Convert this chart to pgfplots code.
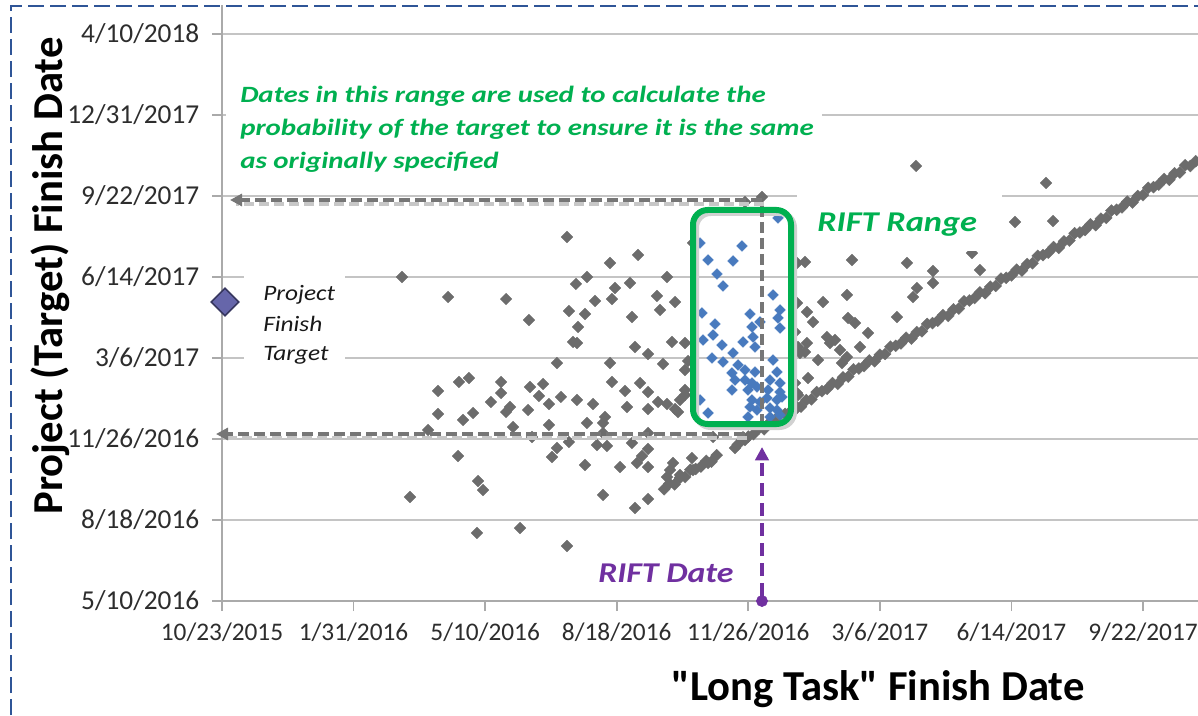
\documentclass[border=0pt]{standalone}
\usepackage{pgfplots}
\pgfplotsset{compat=1.18}
\usepackage{fontspec}
\setmainfont{Carlito}[Ligatures=TeXOff]
\usetikzlibrary{arrows.meta}
\definecolor{ptgray}{RGB}{108,108,108}
\definecolor{ptblue}{RGB}{72,122,190}
\definecolor{rgreen}{RGB}{0,176,80}
\definecolor{rpurple}{RGB}{112,48,160}
\definecolor{tgt}{RGB}{102,102,170}
\definecolor{tgtedge}{RGB}{55,55,95}
\definecolor{gridc}{RGB}{196,196,196}
\definecolor{axisc}{RGB}{170,170,170}
\definecolor{arrowc}{RGB}{118,118,118}
\definecolor{borderc}{RGB}{47,85,151}
\definecolor{tickc}{RGB}{45,45,45}

\pgfplotstableread{
x y
136.8 600.0
171.8 575.3
215.9 572.8
233.3 546.9
164.2 459.3
180.1 470.4
187.7 475.3
212.1 470.4
212.1 456.8
204.4 445.7
164.2 430.9
183.2 423.5
190.8 432.1
215.9 433.3
218.9 439.5
232.6 435.8
234.1 464.2
244.0 467.9
240.9 453.1
248.5 443.2
156.6 411.1
221.2 414.8
235.6 402.5
248.5 417.3
254.6 388.9
250.8 377.8
179.4 379.0
194.6 348.1
198.4 337.0
142.9 328.4
193.8 284.0
226.5 290.1
254.6 493.8
262.2 267.9
263.7 558.0
269.0 591.4
270.6 538.3
266.8 519.8
269.8 518.5
257.6 451.9
269.8 448.2
263.7 396.3
262.2 649.4
294.9 617.3
316.2 627.2
277.4 600.0
310.1 592.6
298.7 586.4
296.4 572.8
283.5 570.4
338.2 600.0
330.6 576.6
344.3 569.1
275.9 554.3
332.9 559.3
311.6 550.6
313.9 513.6
342.0 519.8
351.9 518.5
323.8 504.9
294.9 493.8
335.2 492.6
354.2 496.3
351.9 485.2
296.4 470.4
317.7 469.1
306.3 459.3
323.8 458.0
282.0 443.2
307.8 439.5
323.8 437.0
331.4 445.7
338.2 443.2
344.3 437.0
348.1 448.2
351.9 454.3
291.1 427.2
277.4 419.8
289.6 419.8
323.8 407.4
292.6 391.4
285.0 392.6
311.6 395.1
323.8 387.7
319.2 379.0
315.4 370.4
323.8 365.4
302.5 365.4
275.9 367.9
289.6 330.9
313.9 314.8
323.8 325.9
289.6 407.4
373.2 402.5
389.9 388.9
397.5 398.8
357.2 376.5
342.8 370.4
369.4 370.4
340.5 361.7
338.2 353.1
348.1 355.6
358.0 361.7
346.6 433.3
358.0 642.0
410.4 698.8
397.5 692.6
437.0 617.3
437.0 567.9
435.5 532.1
437.8 513.6
439.3 506.2
435.5 469.1
437.0 456.8
435.5 435.8
351.9 460.5
527.5 737.1
443.1 618.5
478.8 621.0
520.6 617.3
570.0 629.6
576.1 608.6
540.4 607.4
540.4 592.6
528.2 586.4
525.2 575.3
475.0 577.8
456.8 569.1
444.6 556.8
513.0 550.6
475.8 549.4
481.1 543.2
449.2 544.4
491.0 530.9
459.8 525.9
465.9 522.2
462.1 518.5
444.6 518.5
484.9 513.6
469.7 509.9
443.1 507.4
475.0 501.2
453.0 497.5
471.2 493.8
445.4 475.3
437.8 454.3
626.3 716.1
602.7 667.9
631.6 669.1
}\graypts

\pgfplotstableread{
x y
336 338
340 345
344 344
348 352
352 353
356 362
360 363
364 366
368 373
372 372
376 380
392 393
396 402
400 403
404 406
408 413
412 412
416 420
420 421
424 430
428 431
432 434
436 441
440 440
444 448
448 449
452 458
456 459
460 462
464 469
468 468
472 476
476 477
480 486
484 487
488 490
492 497
496 496
500 504
504 505
508 514
512 515
516 518
520 525
524 524
528 532
532 533
536 542
540 543
544 546
548 553
552 552
556 560
560 561
564 570
568 571
572 574
576 581
580 580
584 588
588 589
592 598
596 599
600 602
604 609
608 608
612 616
616 617
620 626
624 627
628 630
632 637
636 636
640 644
644 645
648 654
652 655
656 658
660 665
664 664
668 672
672 673
676 682
680 683
684 686
688 693
692 692
696 700
700 701
704 710
708 711
712 714
716 721
720 720
724 728
728 729
732 738
736 737
740 743
}\diagpts

\pgfplotstableread{
x y
363.3 642.0
369.4 621.0
395.2 638.3
388.4 619.8
376.2 603.7
380.8 588.9
422.6 672.9
418.8 577.8
424.1 559.3
364.8 555.6
401.3 554.3
374.7 542.0
402.8 538.3
408.9 544.5
422.6 549.4
424.1 537.0
365.6 522.2
373.2 528.4
380.0 516.0
396.0 519.8
403.6 525.9
405.1 513.6
372.4 500.0
380.8 495.1
388.4 506.2
392.2 491.4
397.5 485.2
405.1 482.7
418.8 497.5
421.8 482.7
387.6 481.5
389.9 472.8
397.5 472.8
402.8 469.1
406.6 464.2
399.8 460.5
416.5 472.8
424.1 469.1
387.6 460.5
415.0 460.5
424.1 458.0
402.8 448.2
408.9 445.7
414.2 450.6
421.8 448.2
425.6 451.9
401.3 439.5
406.6 435.8
416.5 438.3
421.8 435.8
369.4 432.1
399.8 427.2
416.5 427.2
424.1 429.6
363.3 448.2
}\bluepts

\begin{document}
\begin{tikzpicture}
\useasboundingbox (0,0) rectangle (898.5pt,536.25pt);
\begin{axis}[
  at={(166.5pt,85.5pt)}, anchor=south west,
  scale only axis, width=732pt, height=447pt,
  xmin=0, xmax=741.8, ymin=200, ymax=935.8,
  axis lines=left,
  axis line style={-, draw=axisc, line width=1.6pt},
  xtick={0,100,...,700},
  xticklabels={10/23/2015,1/31/2016,5/10/2016,8/18/2016,11/26/2016,3/6/2017,6/14/2017,9/22/2017},
  ytick={200,300,...,900},
  yticklabels={5/10/2016,8/18/2016,11/26/2016,3/6/2017,6/14/2017,9/22/2017,12/31/2017,4/10/2018},
  tick align=outside, major tick length=7.5pt,
  tick style={draw=axisc, line width=1.2pt},
  ymajorgrids, grid style={draw=gridc, line width=1.3pt},
  yticklabel style={font=\fontsize{20.5}{24}\selectfont, text=tickc, xshift=-6pt},
  xticklabel style={font=\fontsize{19}{23}\selectfont, text=tickc, yshift=-5.5pt},
  clip=false,
]
\addplot[only marks, mark=square*, mark size=3.1pt, mark options={rotate=45, fill=ptgray, draw=ptgray, line width=0.2pt}] table[x=x,y=y] {\graypts};
\addplot[only marks, mark=square*, mark size=3.2pt, mark options={rotate=45, fill=ptgray, draw=ptgray, line width=0.2pt}] table[x=x,y=y] {\diagpts};
\addplot[only marks, mark=square*, mark size=2.9pt, mark options={rotate=45, fill=ptblue, draw=ptblue, line width=0.2pt}] table[x=x,y=y] {\bluepts};
\addplot[only marks, mark=square*, mark size=7.3pt, mark options={rotate=45, fill=tgt, draw=tgtedge, line width=1.2pt}] coordinates {(2.3,569.1)};
\addplot[only marks, mark=*, mark size=4.2pt, mark options={fill=rpurple, draw=rpurple}] coordinates {(410.4,200)};
\end{axis}
\begin{scope}[x=0.75pt, y=-0.75pt, yshift=536.25pt]
  % page border
  \draw[borderc, line width=1.5pt, dash pattern=on 12pt off 4.5pt] (11,715) -- (11,6) -- (1198,6);
  % white text boxes
  \fill[white] (226,70) rectangle (822,184);
  \fill[white] (244,268) rectangle (345,372);
  \fill[white] (797,176) rectangle (1002,251);
  % shadows
  \draw[black!22, line width=3pt, dash pattern=on 7.5pt off 3.75pt] (764,204) -- (236,204);
  \draw[black!22, line width=3pt, dash pattern=on 7.5pt off 3.75pt] (747,438) -- (222,438);
  \draw[black!18, line width=4.5pt, rounded corners=11pt] (696,213) rectangle (794,427);
  % dashed arrows
  \draw[arrowc, line width=2.6pt, dash pattern=on 8pt off 4pt, -{Triangle[length=9pt,width=9pt]}] (762,200) -- (230,200);
  \draw[arrowc, line width=2.6pt, dash pattern=on 8pt off 4pt, -{Triangle[length=9pt,width=9pt]}] (745,434) -- (216,434);
  \draw[arrowc, line width=2.6pt, dash pattern=on 8pt off 4pt] (762,206) -- (762,428);
  % green box
  \draw[rgreen, line width=4.5pt, rounded corners=11pt] (693,210) rectangle (791,424);
  % purple arrow
  \draw[rpurple, line width=3pt, dash pattern=on 10pt off 5pt, -{Triangle[length=10pt,width=10pt]}] (762,596) -- (762,447);
  % texts
  \node[anchor=base west, inner sep=0, text=rgreen, font=\fontsize{17.5}{20}\selectfont\bfseries\itshape] at (240,103) {\scalebox{1.24}[1]{Dates in this range are used to calculate the}};
  \node[anchor=base west, inner sep=0, text=rgreen, font=\fontsize{17.5}{20}\selectfont\bfseries\itshape] at (240,136) {\scalebox{1.24}[1]{probability of the target to ensure it is the same}};
  \node[anchor=base west, inner sep=0, text=rgreen, font=\fontsize{17.5}{20}\selectfont\bfseries\itshape] at (240,169) {\scalebox{1.24}[1]{as originally specified}};
  \node[anchor=base west, inner sep=0, text=rgreen, font=\fontsize{21.5}{24}\selectfont\bfseries\itshape] at (817,232) {\scalebox{1.2}[1]{RIFT Range}};
  \node[anchor=base west, inner sep=0, text=rpurple, font=\fontsize{21.5}{24}\selectfont\bfseries\itshape] at (598,582) {\scalebox{1.18}[1]{RIFT Date}};
  \node[anchor=base west, inner sep=0, text=black!90, font=\fontsize{16.5}{20}\selectfont\itshape] at (263,300) {\scalebox{1.15}[1]{Project}};
  \node[anchor=base west, inner sep=0, text=black!90, font=\fontsize{16.5}{20}\selectfont\itshape] at (263,331) {\scalebox{1.15}[1]{Finish}};
  \node[anchor=base west, inner sep=0, text=black!90, font=\fontsize{16.5}{20}\selectfont\itshape] at (263,360) {\scalebox{1.15}[1]{Target}};
  % axis titles
  \node[anchor=base, inner sep=0, rotate=90, font=\fontsize{32}{36}\selectfont\bfseries] at (62,276) {Project (Target) Finish Date};
  \node[anchor=base, inner sep=0, font=\fontsize{32}{36}\selectfont\bfseries] at (878,700) {"Long Task" Finish Date};
\end{scope}
\end{tikzpicture}
\end{document}
